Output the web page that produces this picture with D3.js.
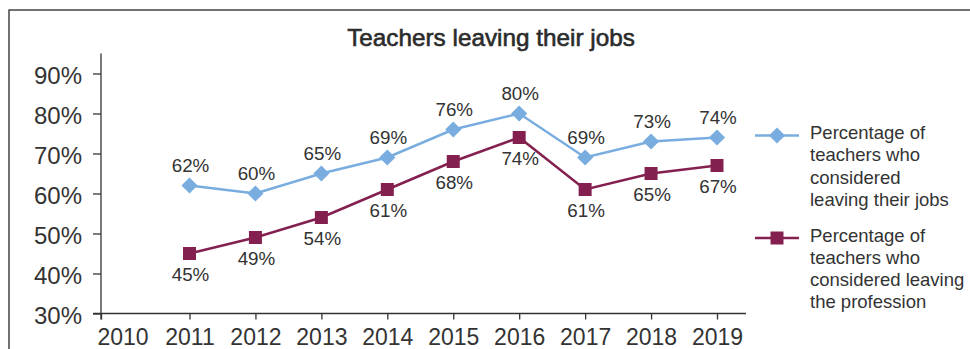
<!DOCTYPE html>
<html>
<head>
<meta charset="utf-8">
<script src="https://cdn.jsdelivr.net/npm/d3@7"></script>
<style>
  html, body { margin: 0; padding: 0; background: #fff; }
  svg { display: block; }
  text { font-family: "Liberation Sans", Arial, Helvetica, sans-serif; fill: #333; }
</style>
</head>
<body>
<svg id="chart" width="970" height="349"></svg>
<script>
// Survey results by year
const years = [2011, 2012, 2013, 2014, 2015, 2016, 2017, 2018, 2019];
const consideredLeavingJob = [62, 60, 65, 69, 76, 80, 69, 73, 74];
const consideredLeavingProfession = [45, 49, 54, 61, 68, 74, 61, 65, 67];

const xTickYears = [2010, 2011, 2012, 2013, 2014, 2015, 2016, 2017, 2018, 2019];
const yTickValues = [30, 40, 50, 60, 70, 80, 90];

const seriesNames = [
  ["Percentage of", "teachers who", "considered", "leaving their jobs"],
  ["Percentage of", "teachers who", "considered leaving", "the profession"]
];

const colors = { job: "#79addf", profession: "#84204f" };

const svg = d3.select("#chart");

// outer frame
svg.append("rect")
  .attr("x", 9).attr("y", 10)
  .attr("width", 1000).attr("height", 400)
  .attr("fill", "none")
  .attr("stroke", "#444")
  .attr("stroke-width", 1.5);

// title (regular face with a thin outline for a medium weight)
svg.append("text")
  .attr("x", 491).attr("y", 46)
  .attr("text-anchor", "middle")
  .style("font-size", "24.3px")
  .style("fill", "#2b2b2b")
  .style("stroke", "#2b2b2b")
  .style("stroke-width", "0.6px")
  .text("Teachers leaving their jobs");

// scales: 2010 sits on the value axis, the survey years follow at even spacing
const x = d3.scaleLinear().domain([2010, 2011, 2019]).range([101, 189.5, 717]);
const y = d3.scaleLinear().domain([30, 95]).range([313.5, 53.5]);

const axisColor = "#333";

// value axis
const yAxis = svg.append("g")
  .attr("transform", `translate(${x(2010)},0)`)
  .call(d3.axisLeft(y).tickValues(yTickValues).tickSize(8).tickPadding(11)
    .tickFormat(d => d + "%"));
yAxis.select(".domain").remove();
yAxis.selectAll(".tick line").attr("stroke", axisColor).attr("stroke-width", 1.3);
yAxis.selectAll(".tick text")
  .style("font-size", "24px")
  .attr("dy", "0.42em")
  .style("fill", "#333");
svg.append("line")
  .attr("x1", x(2010)).attr("x2", x(2010))
  .attr("y1", y(95)).attr("y2", y(30) + 6)
  .attr("stroke", axisColor).attr("stroke-width", 1.3);

// year axis
const xAxis = svg.append("g")
  .attr("transform", `translate(0,${y(30)})`)
  .call(d3.axisBottom(x).tickValues(xTickYears).tickSize(6).tickPadding(9)
    .tickFormat(d3.format("d")));
xAxis.select(".domain").remove();
xAxis.selectAll(".tick line").attr("stroke", axisColor).attr("stroke-width", 1.3);
xAxis.selectAll(".tick text")
  .style("font-size", "23px")
  .style("fill", "#333");
xAxis.selectAll(".tick text")
  .filter(d => d === 2010)
  .attr("text-anchor", "start")
  .attr("x", -4);
svg.append("line")
  .attr("x1", x(2010) - 8).attr("x2", x(2019) + 29)
  .attr("y1", y(30)).attr("y2", y(30))
  .attr("stroke", axisColor).attr("stroke-width", 1.3);

const line = d3.line().x(d => x(d[0])).y(d => y(d[1]));

const jobData = years.map((yr, i) => [yr, consideredLeavingJob[i]]);
const profData = years.map((yr, i) => [yr, consideredLeavingProfession[i]]);

const diamond = d3.symbol().type(d3.symbolSquare).size(130);
const square = d3.symbol().type(d3.symbolSquare).size(169);

// profession series
svg.append("path")
  .datum(profData)
  .attr("d", line)
  .attr("fill", "none")
  .attr("stroke", colors.profession)
  .attr("stroke-width", 2.5);

// job series
svg.append("path")
  .datum(jobData)
  .attr("d", line)
  .attr("fill", "none")
  .attr("stroke", colors.job)
  .attr("stroke-width", 2.5);

svg.append("g").selectAll("path")
  .data(profData).join("path")
  .attr("d", square)
  .attr("transform", d => `translate(${x(d[0])},${y(d[1])})`)
  .attr("fill", colors.profession);

svg.append("g").selectAll("path")
  .data(jobData).join("path")
  .attr("d", diamond)
  .attr("transform", d => `translate(${x(d[0])},${y(d[1])}) rotate(45)`)
  .attr("fill", colors.job);

// value labels
svg.append("g").selectAll("text")
  .data(jobData).join("text")
  .attr("x", d => x(d[0]) + 1)
  .attr("y", d => y(d[1]) - 14)
  .attr("text-anchor", "middle")
  .style("font-size", "18.8px")
  .text(d => d[1] + "%");

svg.append("g").selectAll("text")
  .data(profData).join("text")
  .attr("x", d => x(d[0]) + 1)
  .attr("y", d => y(d[1]) + 27)
  .attr("text-anchor", "middle")
  .style("font-size", "18.8px")
  .text(d => d[1] + "%");

// legend
const legendItems = [
  { y: 135.5, color: colors.job, marker: diamond, rotate: 45, lines: seriesNames[0] },
  { y: 238, color: colors.profession, marker: square, rotate: 0, lines: seriesNames[1] }
];
const legend = svg.append("g");
legendItems.forEach(item => {
  const g = legend.append("g").attr("transform", `translate(0,${item.y})`);
  g.append("line")
    .attr("x1", 755).attr("x2", 799)
    .attr("y1", 0).attr("y2", 0)
    .attr("stroke", item.color).attr("stroke-width", 2.5);
  g.append("path")
    .attr("d", item.marker)
    .attr("transform", `translate(777,0) rotate(${item.rotate})`)
    .attr("fill", item.color);
  g.selectAll("text")
    .data(item.lines).join("text")
    .attr("x", 810)
    .attr("y", (d, i) => 3.5 + i * 22.3)
    .style("font-size", "18.5px")
    .text(d => d);
});
</script>
</body>
</html>
